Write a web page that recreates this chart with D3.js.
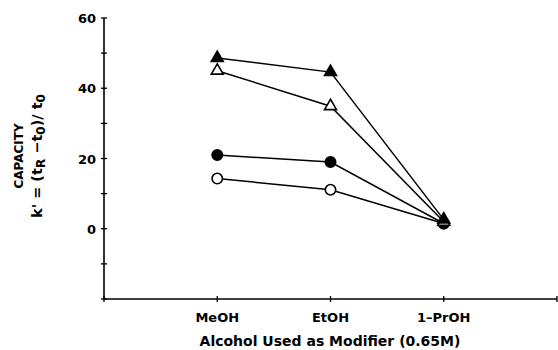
<!DOCTYPE html>
<html lang="en">
<head>
<meta charset="UTF-8">
<title>Capacity vs alcohol modifier</title>
<script src="https://d3js.org/d3.v7.min.js"></script>
<style>
    body { margin: 0; background: #fff; }
    svg { display: block; font-family: "DejaVu Sans", sans-serif; font-weight: bold; }
</style>
</head>
<body>
<div id="chart"></div>
<script>
    // data
    const categories = ['MeOH', 'EtOH', '1-PrOH'];
    const filledTriangle = [48.6, 44.6, 2.6];
    const openTriangle = [45.0, 34.9, 2.0];
    const filledCircle = [21.0, 19.0, 1.5];
    const openCircle = [14.3, 11.1, 1.5];
    const yTicks = [0, 20, 40, 60];

    const series = [
        { values: filledTriangle, shape: 'triangle', filled: true },
        { values: openTriangle, shape: 'triangle', filled: false },
        { values: filledCircle, shape: 'circle', filled: true },
        { values: openCircle, shape: 'circle', filled: false }
    ];

    const width = 558, height = 350;
    const plotLeft = 104, plotRight = 557, plotTop = 18, plotBottom = 299;

    const svg = d3.select('#chart').append('svg')
        .attr('width', width)
        .attr('height', height);

    const x = d3.scaleLinear().domain([0, 4]).range([plotLeft, plotRight]);
    const y = d3.scaleLinear().domain([-20, 60]).range([plotBottom, plotTop]);

    // y axis with crossing ticks
    svg.append('line')
        .attr('x1', plotLeft).attr('x2', plotLeft)
        .attr('y1', y(60)).attr('y2', y(-20))
        .attr('stroke', '#000').attr('stroke-width', 1.6);

    svg.append('g').selectAll('line')
        .data(d3.range(-20, 61, 10))
        .enter().append('line')
        .attr('x1', plotLeft - 3).attr('x2', plotLeft + 3)
        .attr('y1', d => y(d)).attr('y2', d => y(d))
        .attr('stroke', '#000').attr('stroke-width', 1.3);

    svg.append('g').selectAll('text')
        .data(yTicks)
        .enter().append('text')
        .attr('x', plotLeft - 8)
        .attr('y', d => y(d) + 5)
        .attr('text-anchor', 'end')
        .attr('font-size', 13)
        .text(d => d);

    // x axis
    svg.append('line')
        .attr('x1', plotLeft).attr('x2', plotRight)
        .attr('y1', plotBottom).attr('y2', plotBottom)
        .attr('stroke', '#000').attr('stroke-width', 1.6);

    svg.append('g').selectAll('line')
        .data([0, 1, 2, 3, 4])
        .enter().append('line')
        .attr('x1', d => x(d)).attr('x2', d => x(d))
        .attr('y1', plotBottom - 3).attr('y2', plotBottom + 3)
        .attr('stroke', '#000').attr('stroke-width', 1.3);

    svg.append('g').selectAll('text')
        .data(categories)
        .enter().append('text')
        .attr('x', (d, i) => x(i + 1))
        .attr('y', 322)
        .attr('text-anchor', 'middle')
        .attr('font-size', 13)
        .text(d => d.replace('-', '\u2013'));

    svg.append('text')
        .attr('x', 330)
        .attr('y', 346)
        .attr('text-anchor', 'middle')
        .attr('font-size', 14)
        .text('Alcohol Used as Modifier (0.65M)');

    // y axis title, two rotated lines
    const yt = svg.append('g').attr('transform', 'translate(0,156) rotate(-90)');
    yt.append('text')
        .attr('x', 0).attr('y', 23)
        .attr('text-anchor', 'middle')
        .attr('font-size', 12)
        .text('CAPACITY');
    const l2 = yt.append('text')
        .attr('x', 0).attr('y', 42)
        .attr('text-anchor', 'middle')
        .attr('font-size', 14.5);
    l2.append('tspan').text("k' = (t");
    l2.append('tspan').attr('font-size', 12).attr('dy', 3).text('R');
    l2.append('tspan').attr('dy', -3).text(' \u2212t');
    l2.append('tspan').attr('font-size', 12).attr('dy', 3).text('0');
    l2.append('tspan').attr('dy', -3).text(')/ t');
    l2.append('tspan').attr('font-size', 12).attr('dy', 3).text('0');

    // lines
    const line = d3.line()
        .x((d, i) => x(i + 1))
        .y(d => y(d));

    svg.append('g').selectAll('path')
        .data(series)
        .enter().append('path')
        .attr('d', d => line(d.values))
        .attr('fill', 'none')
        .attr('stroke', '#000')
        .attr('stroke-width', 1.5);

    // markers
    const tri = d3.symbol().type(d3.symbolTriangle).size(62);
    const circ = d3.symbol().type(d3.symbolCircle).size(85);

    series.slice().reverse().forEach(s => {
        svg.append('g').selectAll('path')
            .data(s.values)
            .enter().append('path')
            .attr('transform', (d, i) => `translate(${x(i + 1)},${y(d)})`)
            .attr('d', s.shape === 'triangle' ? tri() : circ())
            .attr('fill', s.filled ? '#000' : '#fff')
            .attr('stroke', '#000')
            .attr('stroke-width', 1.6);
    });
</script>
</body>
</html>
